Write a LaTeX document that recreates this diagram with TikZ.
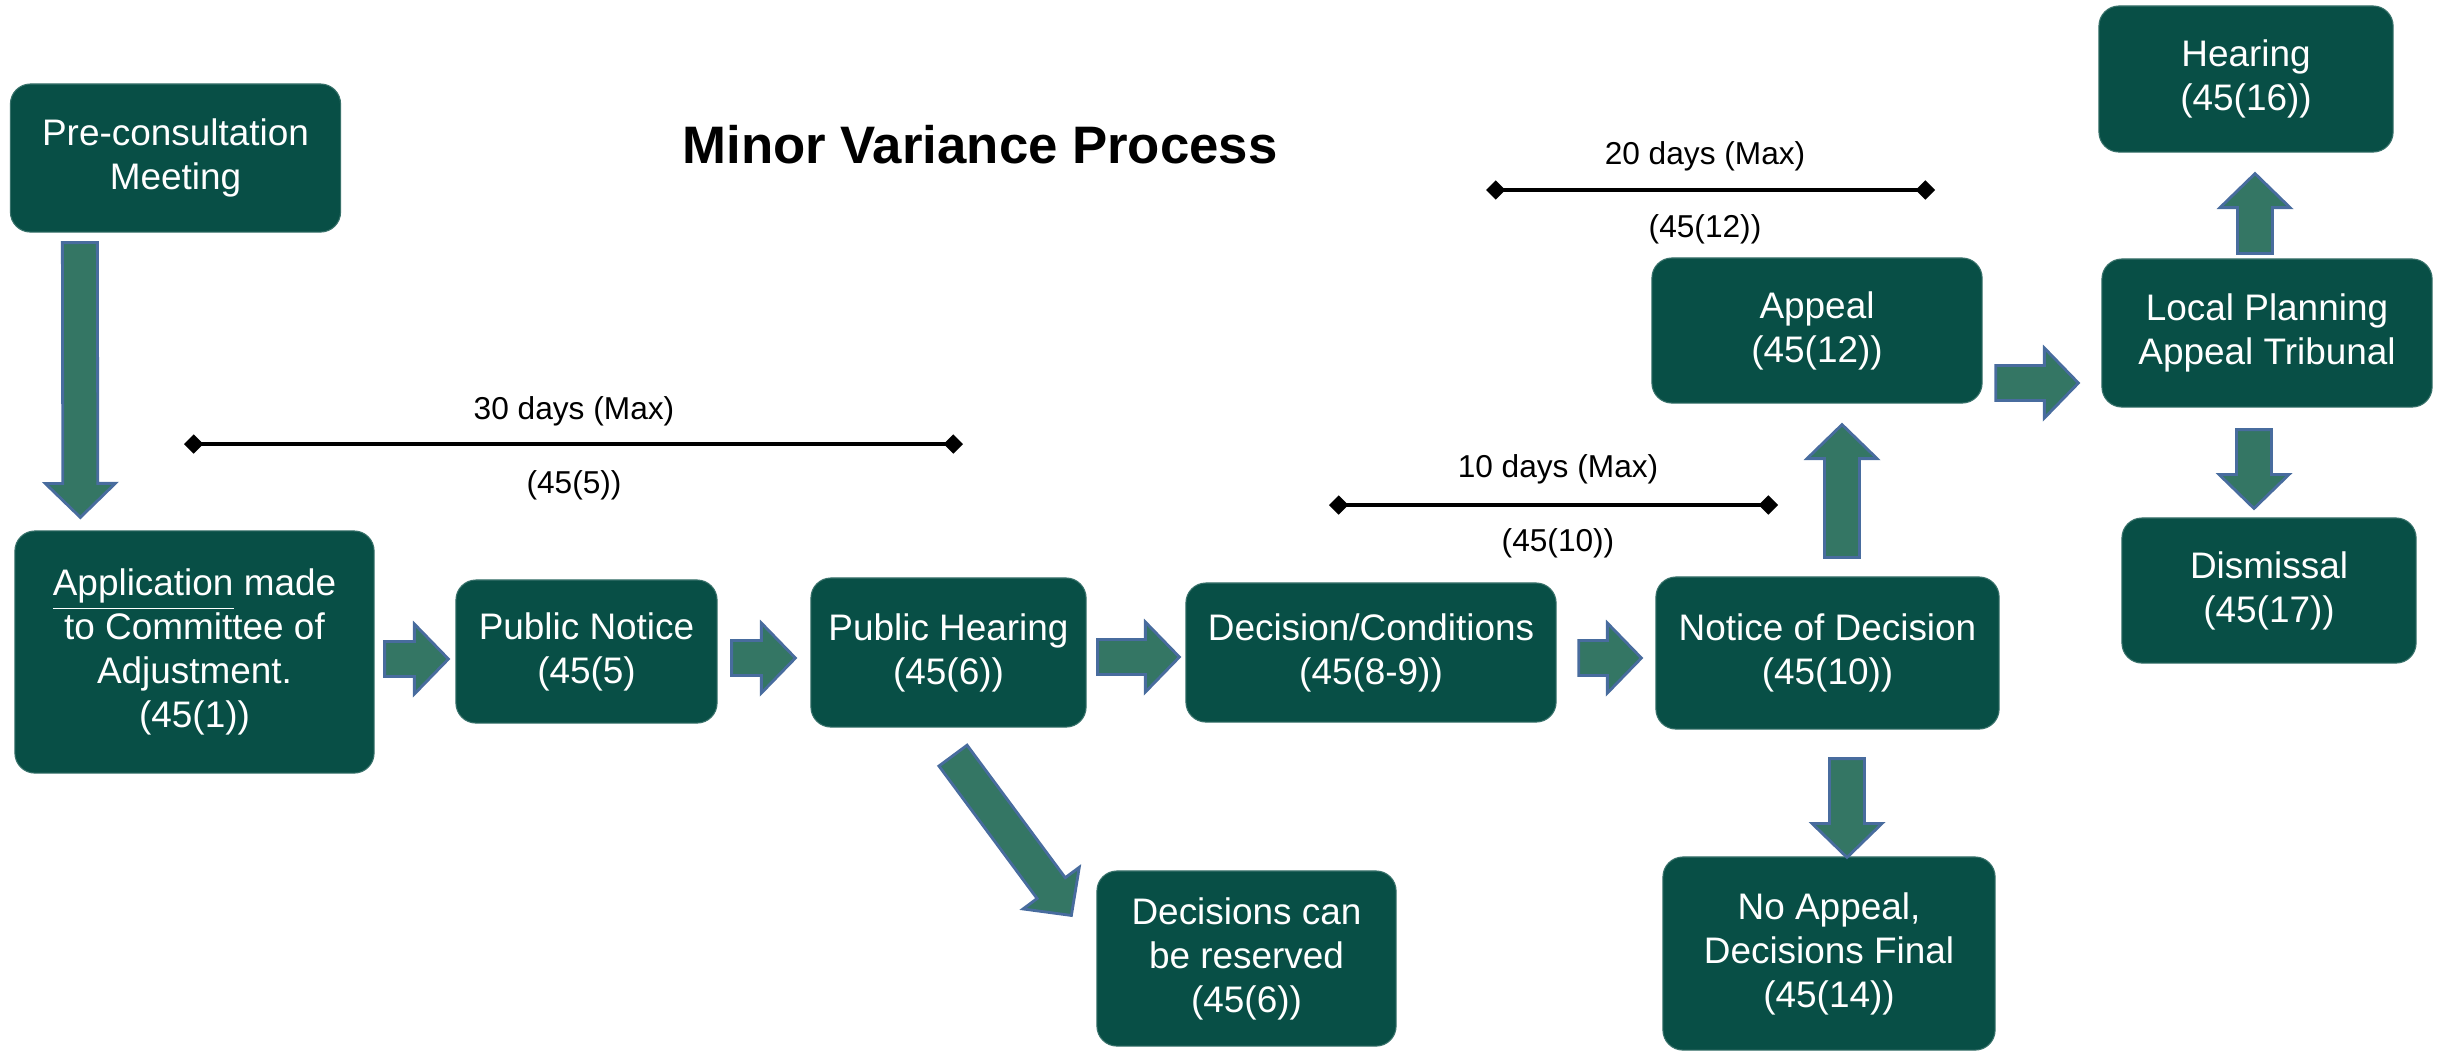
\documentclass[tikz,border=0pt]{standalone}
\usepackage{fontspec}
\setmainfont{Liberation Sans}
\usetikzlibrary{calc,arrows.meta}
\definecolor{boxfill}{RGB}{8,79,70}
\definecolor{arrfill}{RGB}{52,118,100}
\definecolor{arrline}{RGB}{72,108,158}
\newcommand{\blockarrow}[2]{%
  \coordinate (ba-s) at (#1);
  \coordinate (ba-t) at (#2);
  \coordinate (ba-h) at ($(ba-t)!0.34cm!(ba-s)$);
  \draw[barrow] ($(ba-s)!0.175cm!90:(ba-t)$) -- ($(ba-h)!0.175cm!90:(ba-t)$)
     -- ($(ba-h)!0.35cm!90:(ba-t)$) -- (ba-t) -- ($(ba-h)!0.35cm!-90:(ba-t)$)
     -- ($(ba-h)!0.175cm!-90:(ba-t)$) -- ($(ba-s)!0.175cm!-90:(ba-t)$) -- cycle;
}
\tikzset{
  procbox/.style={rectangle, rounded corners=0.2cm, fill=boxfill, draw=boxfill!80!white, line width=0.3pt,
    text=white, align=center, inner sep=0pt, font=\fontsize{10.5}{12.5}\selectfont},
  barrow/.style={fill=arrfill, draw=arrline, line width=0.8pt, line join=miter},
  tline/.style={line width=0.9pt, {Diamond[length=5.5pt,width=5.5pt]}-{Diamond[length=5.5pt,width=5.5pt]}},
  tlabel/.style={inner sep=0pt, font=\fontsize{9}{11}\selectfont},
  titlelabel/.style={inner sep=0pt, font=\fontsize{15}{18}\selectfont\bfseries}
}
\begin{document}
\begin{tikzpicture}[x=0.01cm,y=-0.01cm]
\useasboundingbox (0,0) rectangle (2443,1053);
% boxes
\node[procbox, minimum width=3.30cm, minimum height=1.48cm] (pre) at (175.5,158) {Pre-consultation\\Meeting};
\node[procbox, minimum width=3.59cm, minimum height=2.42cm] (app) at (194.5,652) {\underline{Application} made\\to Committee of\\Adjustment.\\(45(1))};
\node[procbox, minimum width=2.61cm, minimum height=1.43cm] (pn) at (586.5,651.5) {Public Notice\\(45(5)};
\node[procbox, minimum width=2.75cm, minimum height=1.49cm] (ph) at (948.5,652.5) {Public Hearing\\(45(6))};
\node[procbox, minimum width=3.70cm, minimum height=1.39cm] (dc) at (1371,652.5) {Decision/Conditions\\(45(8-9))};
\node[procbox, minimum width=3.43cm, minimum height=1.52cm] (nd) at (1827.5,653) {Notice of Decision\\(45(10))};
\node[procbox, minimum width=2.99cm, minimum height=1.75cm] (dr) at (1246.5,958.5) {Decisions can\\be reserved\\(45(6))};
\node[procbox, minimum width=3.32cm, minimum height=1.93cm] (na) at (1829,953.5) {No Appeal,\\Decisions Final\\(45(14))};
\node[procbox, minimum width=3.30cm, minimum height=1.45cm] (ap) at (1817,330.5) {Appeal\\(45(12))};
\node[procbox, minimum width=2.94cm, minimum height=1.46cm] (he) at (2246,79) {Hearing\\(45(16))};
\node[procbox, minimum width=3.30cm, minimum height=1.48cm] (lp) at (2267,333) {Local Planning\\Appeal Tribunal};
\node[procbox, minimum width=2.94cm, minimum height=1.45cm] (di) at (2269,590.5) {Dismissal\\(45(17))};
% title
\node[titlelabel] (title) at (980,145) {Minor Variance Process};
% block arrows
\blockarrow{$(pre.south west)+(70,10)$}{$(app.north west)+(66,-13)$}
\blockarrow{$(app.east)+(10,7)$}{$(pn.west)+(-7,7.5)$}
\blockarrow{$(pn.east)+(14,6.5)$}{$(ph.west)+(-15,5.5)$}
\blockarrow{$(ph.east)+(11,4.5)$}{$(dc.west)+(-6,4.5)$}
\blockarrow{$(dc.east)+(22,5.5)$}{$(nd.west)+(-14,5)$}
\blockarrow{$(ph.south)+(4.5,28)$}{$(dr.north west)+(-25,45)$}
\blockarrow{$(nd.north)+(14.5,-19)$}{$(ap.south)+(25,21)$}
\blockarrow{$(nd.south)+(19.5,29)$}{$(na.north)+(18,1)$}
\blockarrow{$(ap.east)+(13,52.5)$}{$(lp.west)+(-23,50)$}
\blockarrow{$(lp.north)+(-12,-5)$}{$(he.south)+(9,21)$}
\blockarrow{$(lp.south)+(-13,22)$}{$(di.north)+(-15,-9)$}
% timelines
\coordinate (t30a) at (184,444); \coordinate (t30b) at (963,444);
\draw[tline] (t30a) -- (t30b);
\node[tlabel] (t30top) at (574,411) {30 days (Max)};
\node[tlabel] (t30bot) at (574,485) {(45(5))};
\coordinate (t10a) at (1329,505); \coordinate (t10b) at (1778,505);
\draw[tline] (t10a) -- (t10b);
\node[tlabel] (t10top) at (1558,469) {10 days (Max)};
\node[tlabel] (t10bot) at (1558,543) {(45(10))};
\coordinate (t20a) at (1486,190); \coordinate (t20b) at (1935,190);
\draw[tline] (t20a) -- (t20b);
\node[tlabel] (t20top) at (1705,156) {20 days (Max)};
\node[tlabel] (t20bot) at (1705,229) {(45(12))};
\end{tikzpicture}
\end{document}
